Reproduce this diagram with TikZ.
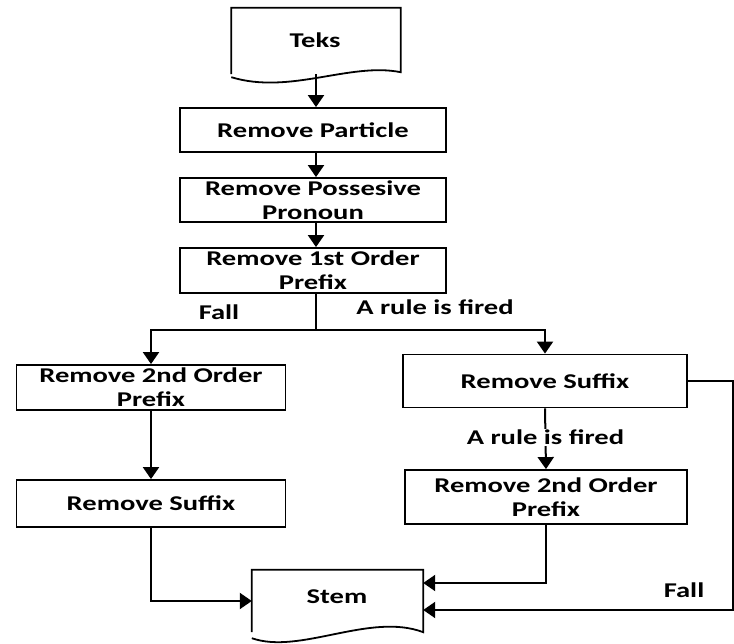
\documentclass[tikz,border=0pt]{standalone}
\usepackage{fontspec}
\setmainfont[FakeStretch=1.36]{Carlito}
\usetikzlibrary{arrows.meta,calc}
\begin{document}
\begin{tikzpicture}[x=1pt,y=-1pt,
  box/.style={draw,line width=1.8pt,inner sep=0pt,font=\bfseries\fontsize{21}{24}\selectfont,align=center},
  lbl/.style={font=\bfseries\fontsize{21}{24}\selectfont,inner sep=1pt},
  conn/.style={line width=2pt,-{Triangle[length=12pt,width=16pt]}},
  plain/.style={line width=2pt},
  docline/.style={line width=1.8pt}]
\useasboundingbox (0,0) rectangle (734,644);
\fill[white] (0,0) rectangle (734,644);
% document shapes (node + drawn outline)
\node[inner sep=0pt,minimum width=169pt,minimum height=66pt] (teks) at (316,41) {};
\node[lbl] at (315,40) {Teks};
\draw[docline] (teks.south west) -- (teks.north west) -- (teks.north east) -- ($(teks.south east)+(0,-2)$)
  .. controls (350,62) and (290,95) .. ($(teks.south west)+(0,3)$);
\node[inner sep=0pt,minimum width=171pt,minimum height=62pt] (stem) at (337.5,601) {};
\node[lbl] at (337,597) {Stem};
\draw[docline] (stem.south west) -- (stem.north west) -- (stem.north east) -- (stem.south east)
  .. controls (370,612) and (300,655) .. ($(stem.south west)+(0,6)$);
% boxes
\node[box,minimum width=266pt,minimum height=44pt] (part) at (313,130) {Remove Particle};
\node[box,minimum width=266pt,minimum height=44pt] (poss) at (313,200) {Remove Possesive\\Pronoun};
\node[box,minimum width=266pt,minimum height=45pt] (first) at (313,270.5) {Remove 1st Order\\Prefix};
\node[box,minimum width=269pt,minimum height=45pt] (left2) at (151,387.5) {Remove 2nd Order\\Prefix};
\node[box,minimum width=269pt,minimum height=47pt] (lsuf) at (151,503.5) {Remove Suffix};
\node[box,minimum width=284pt,minimum height=53pt] (rsuf) at (545,381) {Remove Suffix};
\node[box,minimum width=282pt,minimum height=54pt] (r2) at (546,497) {Remove 2nd Order\\Prefix};
% connectors
\draw[conn] (teks.south) -- (teks.south |- part.north);
\draw[conn] (teks.south |- part.south) -- (teks.south |- poss.north);
\draw[conn] (teks.south |- poss.south) -- (teks.south |- first.north);
\coordinate (split) at (teks.south |- 0,330);
\draw[plain] (teks.south |- first.south) -- (split);
\draw[conn] (split) -| (left2.north);
\draw[conn] (split) -| (rsuf.north);
\node[lbl] at (219,312) {Fall};
\node[lbl] at (435,307) {A rule is fired};
\draw[conn] (left2.south) -- (lsuf.north);
\draw[conn] (lsuf.south) |- (stem.west);
\draw[conn] (rsuf.south) -- node[lbl,fill=white,pos=0.48] {A rule is fired} (r2.north);
\coordinate (sA) at ($(stem.east)+(0,-18)$);
\coordinate (sB) at ($(stem.east)+(0,9)$);
\draw[conn] (r2.south) |- (sA);
\coordinate (rt) at (733,377);
\draw[conn] (rsuf.east) -- (rsuf.east -| rt) |- (sB);
\node[lbl] at (684,590) {Fall};
\end{tikzpicture}
\end{document}
